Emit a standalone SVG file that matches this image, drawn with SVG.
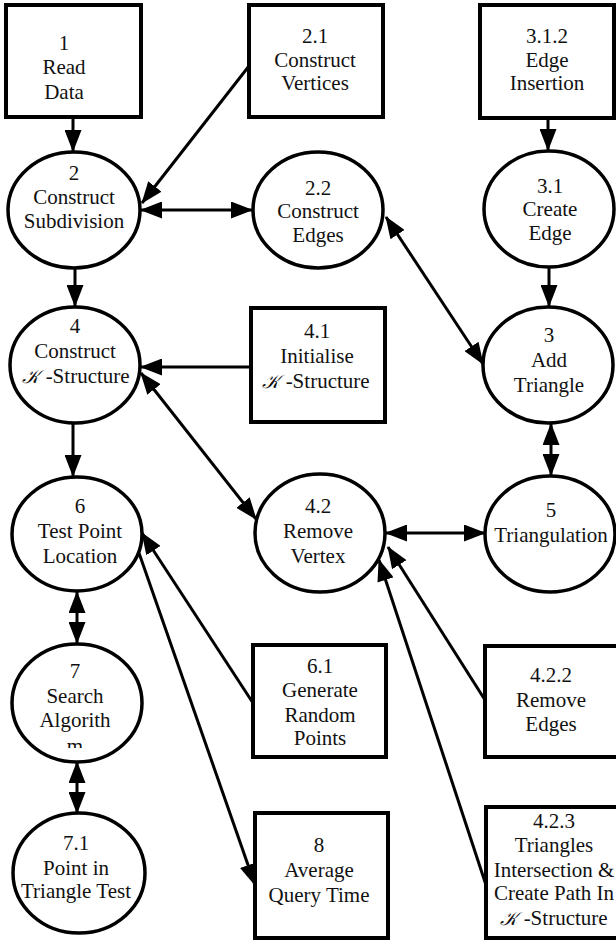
<svg xmlns="http://www.w3.org/2000/svg" width="616" height="940" viewBox="0 0 616 940">
<style>
.b{fill:#fff;stroke:#000;stroke-width:4}
.c{fill:#fff;stroke:#000;stroke-width:3.5}
.t text{font-size:21px;fill:#111;text-anchor:middle}
.k{font-style:italic;font-size:19px}
.l{fill:none;stroke:#000;stroke-width:3}
</style>
<defs>
<marker id="ah" viewBox="0 0 22 17" refX="21" refY="8.5" markerWidth="22" markerHeight="17" markerUnits="userSpaceOnUse" orient="auto-start-reverse">
<path d="M0,0 L22,8.5 L0,17 z" fill="#000"/>
</marker>
<clipPath id="clip7"><rect x="0" y="640" width="160" height="108"/></clipPath>
</defs>
<g id="connectors">
<line class="l" x1="73" y1="117" x2="73" y2="151" marker-end="url(#ah)"/>
<line class="l" x1="249" y1="66" x2="142" y2="203" marker-end="url(#ah)"/>
<line class="l" x1="141" y1="210" x2="252" y2="210" marker-start="url(#ah)" marker-end="url(#ah)"/>
<line class="l" x1="386" y1="217" x2="483" y2="364" marker-start="url(#ah)" marker-end="url(#ah)"/>
<line class="l" x1="548" y1="118" x2="548" y2="150" marker-end="url(#ah)"/>
<line class="l" x1="549" y1="268" x2="549" y2="306" marker-end="url(#ah)"/>
<line class="l" x1="75" y1="268" x2="75" y2="306" marker-end="url(#ah)"/>
<line class="l" x1="251" y1="367" x2="141" y2="367" marker-end="url(#ah)"/>
<line class="l" x1="141" y1="373" x2="256" y2="519" marker-start="url(#ah)" marker-end="url(#ah)"/>
<line class="l" x1="73" y1="423" x2="73" y2="476" marker-end="url(#ah)"/>
<line class="l" x1="551" y1="424" x2="551" y2="475" marker-start="url(#ah)" marker-end="url(#ah)"/>
<line class="l" x1="386" y1="533" x2="485" y2="533" marker-start="url(#ah)" marker-end="url(#ah)"/>
<line class="l" x1="253" y1="703" x2="142" y2="533" marker-end="url(#ah)"/>
<line class="l" x1="139" y1="553" x2="255" y2="885" marker-end="url(#ah)"/>
<line class="l" x1="77" y1="592" x2="77" y2="643" marker-start="url(#ah)" marker-end="url(#ah)"/>
<line class="l" x1="77" y1="762" x2="77" y2="813" marker-start="url(#ah)" marker-end="url(#ah)"/>
<line class="l" x1="485" y1="700" x2="388" y2="547" marker-end="url(#ah)"/>
<line class="l" x1="486" y1="885" x2="379" y2="560" marker-end="url(#ah)"/>
</g>
<g class="t" font-family="'Liberation Serif', 'Times New Roman', serif">
<g id="n1"><rect class="b" x="6" y="5" width="135" height="112"/>
<text x="64" y="50">1</text><text x="64" y="74">Read</text><text x="64" y="99">Data</text></g>
<g id="n2_1"><rect class="b" x="249" y="5" width="134" height="112"/>
<text x="315" y="43">2.1</text><text x="315" y="67">Construct</text><text x="315" y="90">Vertices</text></g>
<g id="n3_1_2"><rect class="b" x="480" y="5" width="134" height="113"/>
<text x="547" y="43">3.1.2</text><text x="547" y="67">Edge</text><text x="547" y="90">Insertion</text></g>
<g id="n2"><ellipse class="c" cx="74" cy="210" rx="66" ry="58"/>
<text x="74" y="180">2</text><text x="74" y="204">Construct</text><text x="74" y="228">Subdivision</text></g>
<g id="n2_2"><ellipse class="c" cx="318" cy="210" rx="65" ry="58"/>
<text x="318" y="195">2.2</text><text x="318" y="218">Construct</text><text x="318" y="242">Edges</text></g>
<g id="n3_1"><ellipse class="c" cx="549" cy="209" rx="65" ry="58"/>
<text x="550" y="193">3.1</text><text x="550" y="216">Create</text><text x="550" y="240">Edge</text></g>
<g id="n4"><ellipse class="c" cx="75" cy="365" rx="65" ry="58"/>
<text x="75" y="333">4</text><text x="75" y="358">Construct</text><text x="76" y="383"><tspan class="k">𝒦</tspan> -Structure</text></g>
<g id="n4_1"><rect class="b" x="251" y="308" width="134" height="114"/>
<text x="317" y="338">4.1</text><text x="317" y="363">Initialise</text><text x="316" y="388"><tspan class="k">𝒦</tspan> -Structure</text></g>
<g id="n3"><ellipse class="c" cx="548" cy="365" rx="65" ry="58"/>
<text x="549" y="342">3</text><text x="549" y="367">Add</text><text x="549" y="392">Triangle</text></g>
<g id="n6"><ellipse class="c" cx="77" cy="534" rx="65" ry="57"/>
<text x="80" y="513">6</text><text x="80" y="538">Test Point</text><text x="80" y="563">Location</text></g>
<g id="n4_2"><ellipse class="c" cx="320" cy="533" rx="65" ry="59"/>
<text x="318" y="513">4.2</text><text x="318" y="538">Remove</text><text x="318" y="563">Vertex</text></g>
<g id="n5"><ellipse class="c" cx="550" cy="534" rx="65" ry="58"/>
<text x="551" y="517">5</text><text x="551" y="542">Triangulation</text></g>
<g id="n7"><ellipse class="c" cx="77" cy="703" rx="65" ry="59"/>
<g clip-path="url(#clip7)"><text x="75" y="678">7</text><text x="75" y="703">Search</text><text x="75" y="727">Algorith</text><text x="75" y="753">m</text></g></g>
<g id="n6_1"><rect class="b" x="253" y="645" width="133" height="112"/>
<text x="320" y="673">6.1</text><text x="320" y="697">Generate</text><text x="320" y="722">Random</text><text x="320" y="745">Points</text></g>
<g id="n4_2_2"><rect class="b" x="485" y="646" width="134" height="111"/>
<text x="551" y="682">4.2.2</text><text x="551" y="707">Remove</text><text x="551" y="731">Edges</text></g>
<g id="n7_1"><ellipse class="c" cx="79" cy="873" rx="66" ry="60"/>
<text x="76" y="850">7.1</text><text x="76" y="875">Point in</text><text x="76" y="898">Triangle Test</text></g>
<g id="n8"><rect class="b" x="255" y="813" width="133" height="125"/>
<text x="319" y="852">8</text><text x="319" y="877">Average</text><text x="319" y="902">Query Time</text></g>
<g id="n4_2_3"><rect class="b" x="486" y="807" width="134" height="131"/>
<text x="554" y="828">4.2.3</text><text x="554" y="852">Triangles</text><text x="554" y="877">Intersection &amp;</text><text x="554" y="900">Create Path In</text><text x="554" y="925"><tspan class="k">𝒦</tspan> -Structure</text></g>
</g>
</svg>
